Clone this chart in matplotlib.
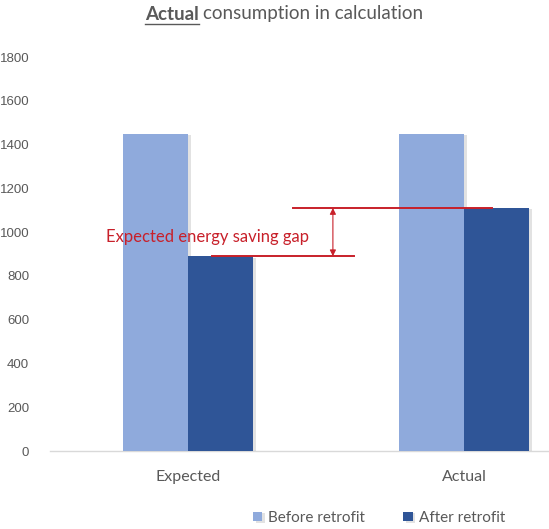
import matplotlib
matplotlib.use("Agg")
import matplotlib.pyplot as plt
import matplotlib.patheffects as pe
import numpy as np

# consumption per case (kWh/m2 style units, as in the source sheet)
categories = ["Expected", "Actual"]
before_retrofit = [1450, 1450]
after_retrofit = [890, 1110]
y_ticks = [0, 200, 400, 600, 800, 1000, 1200, 1400, 1600, 1800]

C_BEFORE = "#8FAADC"
C_AFTER = "#2F5597"
C_RED = "#C8202A"
C_TXT = "#595959"

plt.rcParams["font.family"] = ["Lato", "DejaVu Sans"]

fig = plt.figure(figsize=(5.49, 5.29), dpi=100)
ax = fig.add_axes([50 / 549, 1 - 451 / 529, 499 / 549, (451 - 57) / 529])

x = np.arange(len(categories))
w = 0.236
shadow = [pe.SimplePatchShadow(offset=(2, -1), shadow_rgbFace="0.55", alpha=0.25), pe.Normal()]
b1 = ax.bar(x - w / 2, before_retrofit, w, color=C_BEFORE, label="Before retrofit", zorder=3)
b2 = ax.bar(x + w / 2, after_retrofit, w, color=C_AFTER, label="After retrofit", zorder=3)
for bar in list(b1) + list(b2):
    bar.set_path_effects(shadow)

ax.set_xlim(-0.5, 1.308)
ax.set_ylim(0, 1800)
ax.set_yticks(y_ticks)
ax.set_xticks(x)
ax.set_xticklabels(categories, fontsize=11.5, color=C_TXT)
for lab in ax.get_yticklabels():
    lab.set_fontfamily("Liberation Sans")
ax.tick_params(axis="y", labelsize=9.5, labelcolor=C_TXT, length=0, pad=15)
ax.tick_params(axis="x", length=0, pad=14)
for s in ("top", "right", "left"):
    ax.spines[s].set_visible(False)
ax.spines["bottom"].set_color("#D9D9D9")
ax.spines["bottom"].set_linewidth(1.0)

# gap between expected and actual post-retrofit consumption
lo, hi = after_retrofit[0], after_retrofit[1]
ax.plot([0.38, 1.10], [hi, hi], color=C_RED, lw=1.4, zorder=4)
ax.plot([0.087, 0.60], [lo, lo], color=C_RED, lw=1.4, zorder=4)
ax.annotate("", xy=(0.525, hi), xytext=(0.525, lo),
            arrowprops=dict(arrowstyle="<|-|>", color=C_RED, lw=0.8,
                            mutation_scale=9, shrinkA=0, shrinkB=0), zorder=4)
ax.text(0.072, (lo + hi) / 2 - 22, "Expected energy saving gap", color=C_RED,
        fontsize=12, ha="center", va="center", zorder=5)

# title with underlined bold first word
fig.canvas.draw()
r = fig.canvas.get_renderer()
t1 = fig.text(145 / 549, 1 - 14 / 529, "Actual", fontsize=13.5, fontweight="bold",
              color=C_TXT, ha="left", va="center")
bb = t1.get_window_extent(r)
t2 = fig.text(bb.x1 / fig.bbox.width + 4 / 549, 1 - 14 / 529, "consumption in calculation",
              fontsize=13.5, color=C_TXT, ha="left", va="center")
uy = (bb.y0 - 1) / fig.bbox.height
fig.add_artist(plt.Line2D([bb.x0 / fig.bbox.width, bb.x1 / fig.bbox.width], [uy, uy],
                          color=C_TXT, lw=1.0, transform=fig.transFigure))

fig.legend(handles=[b1, b2], labels=["Before retrofit", "After retrofit"],
           loc="center", bbox_to_anchor=(379 / 549, 1 - 518 / 529), ncol=2,
           frameon=False, fontsize=11, labelcolor=C_TXT, handlelength=0.6,
           handleheight=0.6, handletextpad=0.4, columnspacing=2.5)

fig.savefig("out.png", dpi=100)
